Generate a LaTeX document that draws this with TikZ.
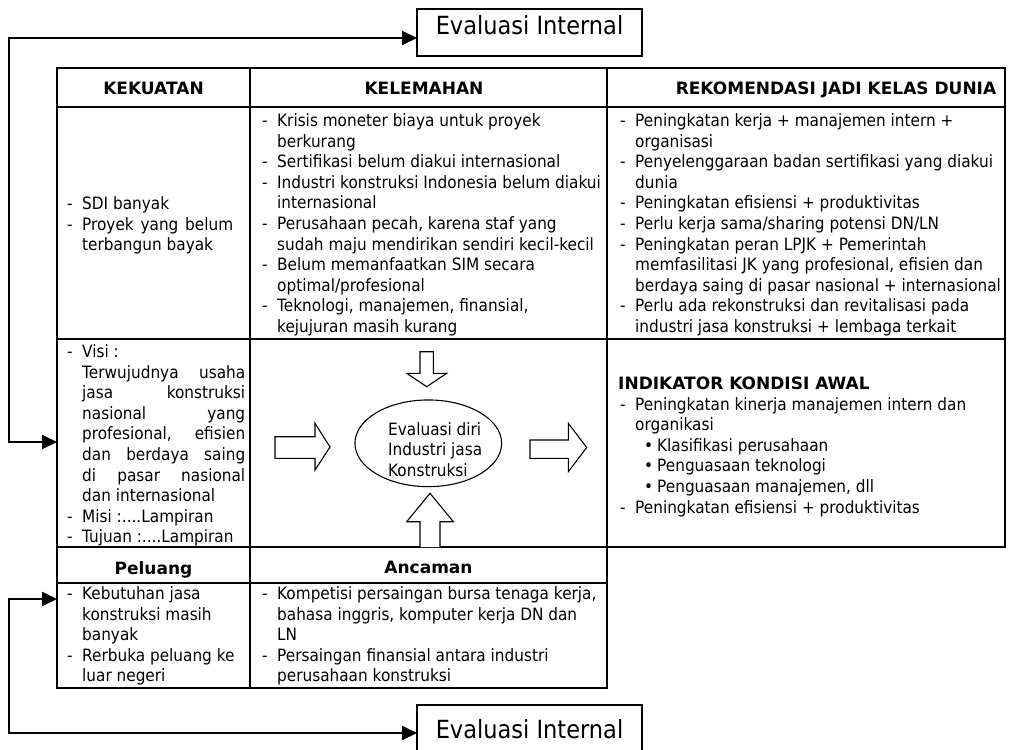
\documentclass[tikz,border=0pt]{standalone}
\usepackage{fontspec}
\setmainfont{DejaVu Sans}[FakeStretch=0.9]
\newfontfamily\hdrfont{DejaVu Sans}
\usetikzlibrary{arrows.meta,shapes.geometric}
\newcommand{\dsh}{\makebox[15pt][l]{-}}
\newcommand{\ind}{\hspace*{15pt}}
\newcommand{\blt}{\makebox[13pt][l]{•}}
\tikzset{
  txt/.style={anchor=base west, inner sep=0pt, font=\fontsize{17}{20.6}\selectfont},
  hdr/.style={anchor=base, inner sep=0pt, font=\hdrfont\bfseries\fontsize{17}{20.6}\selectfont},
  tbl/.style={line width=1.2pt},
  blockarrow/.style={draw, line width=1.1pt, fill=white},
  conn/.style={line width=2pt, {Triangle[length=15pt,width=14pt]}-{Triangle[length=15pt,width=14pt]}},
  evbox/.style={draw, line width=1.2pt, inner sep=0pt, minimum width=225pt, anchor=base, font=\fontsize{25}{29}\selectfont}
}
\begin{document}
\begin{tikzpicture}[x=1pt,y=-1pt]
\useasboundingbox (0,0) rectangle (1011,749);
\fill[white] (0,0) rectangle (1011,749);

% Evaluasi Internal boxes
\node[evbox, text height=26pt, text depth=21pt] (evTop) at (529.5,35) {Evaluasi Internal};
\node[evbox, text height=33pt, text depth=30pt] (evBot) at (529.5,738) {Evaluasi Internal};

% table lines
\draw[tbl] (57,68) rectangle (1005,547);
\draw[tbl] (57,547) rectangle (607,688);
\draw[tbl] (57,107) -- (1005,107);
\draw[tbl] (57,339) -- (1005,339);
\draw[tbl] (57,583) -- (607,583);
\draw[tbl] (250,68) -- (250,688);
\draw[tbl] (607,68) -- (607,688);

% headers
\node[hdr] (hKek) at (153.5,95) {KEKUATAN};
\node[hdr] (hKel) at (424,95) {KELEMAHAN};
\node[hdr] (hRek) at (836,95) {REKOMENDASI JADI KELAS DUNIA};
\node[hdr] (hPel) at (153.5,574) {Peluang};
\node[hdr] (hAnc) at (428.5,573) {Ancaman};

% KEKUATAN
\node[txt] (tKek) at (67,209.5) {\parbox[t]{180pt}{\raggedright
\dsh SDI banyak\\
\dsh\hbox to 151pt{Proyek\hfill yang\hfill belum}\\
\ind terbangun bayak}};

% KELEMAHAN
\node[txt] (tKel) at (262,126.5) {\parbox[t]{345pt}{\raggedright
\dsh Krisis moneter biaya untuk proyek\\
\ind berkurang\\
\dsh Sertifikasi belum diakui internasional\\
\dsh Industri konstruksi Indonesia belum diakui\\
\ind internasional\\
\dsh Perusahaan pecah, karena staf yang\\
\ind sudah maju mendirikan sendiri kecil-kecil\\
\dsh Belum memanfaatkan SIM secara\\
\ind optimal/profesional\\
\dsh Teknologi, manajemen, finansial,\\
\ind kejujuran masih kurang}};

% REKOMENDASI
\node[txt] (tRek) at (620,126.5) {\parbox[t]{390pt}{\raggedright
\dsh Peningkatan kerja + manajemen intern +\\
\ind organisasi\\
\dsh Penyelenggaraan badan sertifikasi yang diakui\\
\ind dunia\\
\dsh Peningkatan efisiensi + produktivitas\\
\dsh Perlu kerja sama/sharing potensi DN/LN\\
\dsh Peningkatan peran LPJK + Pemerintah\\
\ind memfasilitasi JK yang profesional, efisien dan\\
\ind berdaya saing di pasar nasional + internasional\\
\dsh Perlu ada rekonstruksi dan revitalisasi pada\\
\ind industri jasa konstruksi + lembaga terkait}};

% Visi
\node[txt] (tVisi) at (67,357.5) {\parbox[t]{180pt}{\raggedright
\dsh Visi :\\
\ind\hbox to 163pt{Terwujudnya\hfill usaha}\\
\ind\hbox to 163pt{jasa\hfill konstruksi}\\
\ind\hbox to 163pt{nasional\hfill yang}\\
\ind\hbox to 163pt{profesional,\hfill efisien}\\
\ind\hbox to 163pt{dan\hfill berdaya\hfill saing}\\
\ind\hbox to 163pt{di\hfill pasar\hfill nasional}\\
\ind dan internasional\\
\dsh Misi :....Lampiran\\
\dsh Tujuan :....Lampiran}};

% Indikator
\node[txt] (tInd) at (618,389.5) {\parbox[t]{385pt}{\raggedright
{\hdrfont\bfseries INDIKATOR KONDISI AWAL}\\
\hspace*{2pt}\dsh Peningkatan kinerja manajemen intern dan\\
\hspace*{2pt}\ind organikasi\\
\hspace*{26pt}\blt Klasifikasi perusahaan\\
\hspace*{26pt}\blt Penguasaan teknologi\\
\hspace*{26pt}\blt Penguasaan manajemen, dll\\
\hspace*{2pt}\dsh Peningkatan efisiensi + produktivitas}};

% Peluang
\node[txt] (tPel) at (67,599.5) {\parbox[t]{180pt}{\raggedright
\dsh Kebutuhan jasa\\
\ind konstruksi masih\\
\ind banyak\\
\dsh Rerbuka peluang ke\\
\ind luar negeri}};

% Ancaman
\node[txt] (tAnc) at (262,599.5) {\parbox[t]{345pt}{\raggedright
\dsh Kompetisi persaingan bursa tenaga kerja,\\
\ind bahasa inggris, komputer kerja DN dan\\
\ind LN\\
\dsh Persaingan finansial antara industri\\
\ind perusahaan konstruksi}};

% central ellipse
\node[draw, ellipse, line width=1.1pt, minimum width=146.7pt, minimum height=86.7pt, inner sep=0pt] (ev) at (428.3,443.3) {};
\node[txt] (evTxt) at (388,435) {\parbox[t]{120pt}{\raggedright Evaluasi diri\\Industri jasa\\Konstruksi}};

% block arrows
\draw[blockarrow] (420,351.7) -- (433.3,351.7) -- (433.3,373.3) -- (446.7,373.3) -- (426.7,386.7) -- (406.7,373.3) -- (420,373.3) -- cycle;
\draw[blockarrow] (275,436.7) -- (315,436.7) -- (315,423.3) -- (330,447) -- (315,470) -- (315,458.3) -- (275,458.3) -- cycle;
\draw[blockarrow] (530,440) -- (568.3,440) -- (568.3,423.3) -- (586.7,447.5) -- (568.3,471.7) -- (568.3,458.3) -- (530,458.3) -- cycle;
\draw[blockarrow] (420,547) -- (420,521.7) -- (406.7,521.7) -- (430,493.3) -- (453.3,521.7) -- (440,521.7) -- (440,547);

% connectors
\coordinate (inVisi) at (57,442);
\coordinate (inPel) at (57,599);
\coordinate (topIn) at (417,38);
\coordinate (botIn) at (417,733);
\draw[conn] (inVisi) -- ++(-48,0) |- (topIn);
\draw[conn] (inPel) -- ++(-48,0) |- (botIn);
\end{tikzpicture}
\end{document}
